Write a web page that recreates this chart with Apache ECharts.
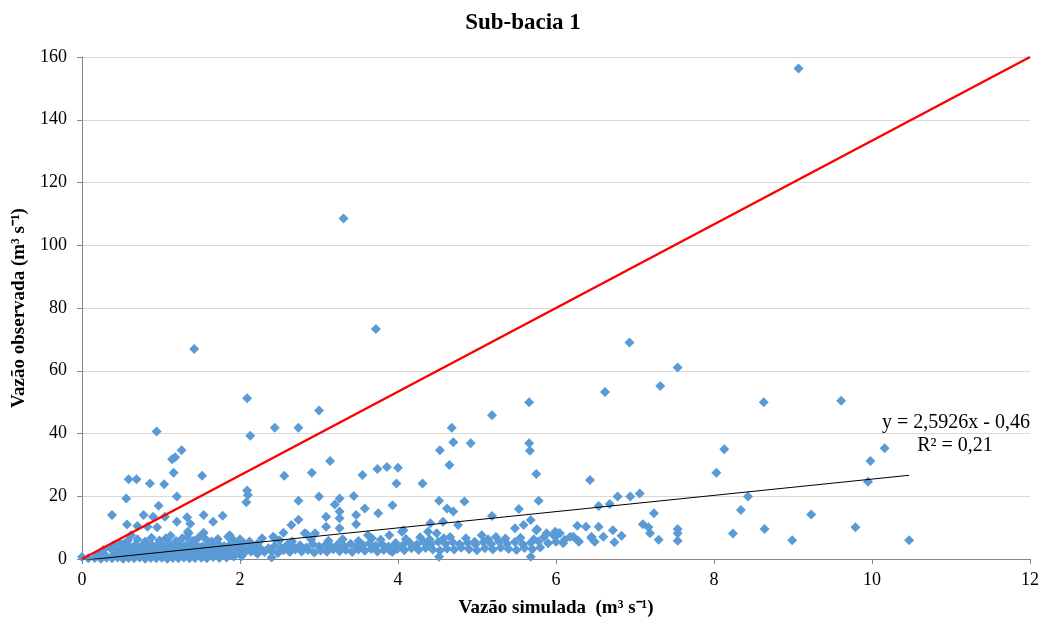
<!DOCTYPE html>
<html>
<head>
<meta charset="utf-8">
<script src="https://cdn.jsdelivr.net/npm/echarts@6/dist/echarts.min.js"></script>
<style>
  html, body { margin: 0; padding: 0; background: #fff; }
  #chart { width: 1046px; height: 623px; }
</style>
</head>
<body>
<div id="chart"></div>
<script>
// Axis ranges and ticks
const xTicks = [0, 2, 4, 6, 8, 10, 12];
const yTicks = [0, 20, 40, 60, 80, 100, 120, 140, 160];

// [simulated, observed] pairs, m3/s
const obsHigh = [
  [9.07,156.3],[3.31,108.5],[3.72,73.3],[1.42,66.9],[6.93,69.0],[7.54,61.0],[7.32,55.1],
  [6.62,53.2],[9.61,50.4],[8.63,50.0],[2.09,51.2],[5.66,50.0],[5.19,45.8],[3.00,47.3],
  [4.68,41.8],[2.44,41.8],[2.74,41.8],[0.945,40.6],[2.13,39.3],[4.70,37.2],[4.92,36.9],
  [5.66,36.9],[5.67,34.5],[4.53,34.7],[8.13,35.0],[10.16,35.3],[1.26,34.7],[1.18,32.4],
  [1.14,31.8],[9.98,31.2],[3.14,31.2],[4.65,30.0],[3.86,29.3],[4.00,29.1],[3.74,28.7],
  [2.91,27.5],[2.56,26.5],[1.16,27.5],[1.52,26.5],[5.75,27.1],[8.03,27.5],[3.55,26.8],
  [0.59,25.4],[0.69,25.4],[6.43,25.2],[9.95,24.6],[0.86,24.1],[1.04,23.8],[3.98,24.1],
  [4.31,24.1]
];

const obsMid = [
  [2.09,21.8],[2.10,20.4],[2.08,18.1],[0.56,19.3],[1.20,19.9],[3.00,19.9],[3.26,19.3],
  [3.44,20.1],[2.74,18.6],[4.52,18.6],[4.84,18.3],[5.78,18.6],[6.78,19.9],[6.94,19.9],
  [7.06,20.9],[8.43,19.9],[3.20,17.4],[3.93,17.1],[0.97,17.0],[6.54,16.9],[6.68,17.5],
  [3.58,16.1],[4.62,16.1],[5.53,15.9],[8.34,15.6],[3.26,15.1],[4.70,15.1],[3.75,14.6],
  [7.24,14.6],[9.23,14.2],[0.38,14.0],[0.78,14.0],[1.54,14.0],[1.78,13.8],[5.19,13.7],
  [0.90,13.5],[1.05,13.5],[1.33,13.3],[3.09,13.5],[3.26,13.0],[3.47,14.0],[2.74,12.5],
  [1.20,11.9],[1.66,11.9],[1.37,11.2],[0.57,11.0],[0.70,10.5],[0.83,10.3],[0.95,10.1],
  [2.65,10.8],[4.57,11.9],[4.41,11.4],[4.76,10.8],[5.59,10.8],[5.68,12.4],[3.09,10.3],
  [3.26,9.8],[3.47,11.1],[6.27,10.6],[6.38,10.3],[6.54,10.3],[7.10,11.1],[7.17,10.1],
  [5.48,9.8],[5.75,9.2],[7.54,9.6],[8.64,9.6],[9.79,10.1],[6.72,9.2],[5.76,9.5],
  [4.07,9.2],[5.99,8.7],[1.35,8.2],[1.54,8.4],[1.34,8.7],[2.55,8.4],[2.84,8.0],
  [2.82,8.2],[2.95,8.2],[4.38,8.7],[4.49,8.2],[4.05,8.7],[7.19,8.2],[7.54,8.2],
  [8.24,8.1],[5.88,8.2],[6.05,8.2],[6.03,8.2],[1.85,7.1],[1.87,7.6],[2.42,7.1],
  [2.28,6.6],[2.44,6.6],[3.62,7.6],[3.67,6.6],[3.89,7.6],[5.06,7.6],[5.97,7.6],
  [6.83,7.4],[6.60,7.1],[6.45,7.1],[6.18,7.1],[5.99,7.1],[6.22,7.1],[4.86,6.6],
  [6.45,6.6],[7.30,6.1],[6.11,6.1],[8.99,6.0],[10.47,6.0],[6.28,5.8],[7.54,5.8],
  [4.97,5.5],[6.49,5.5],[6.29,5.5],[6.74,5.3],[6.09,5.0],[3.96,4.5],[3.93,2.3],
  [2.40,0.5],[4.52,0.7],[5.68,0.7],[0.62,7.6],[0.48,5.0]
];

const obsLowFlow = [
  [0.00,0.6],[0.08,0.2],[0.16,0.3],[0.24,0.1],[0.31,0.4],[0.38,0.2],[0.45,0.5],[0.52,0.1],
  [0.59,0.3],[0.66,0.2],[0.73,0.5],[0.80,0.1],[0.87,0.3],[0.94,0.2],[1.01,0.4],[1.08,0.1],
  [1.15,0.3],[1.22,0.2],[1.29,0.5],[1.36,0.2],[1.43,0.3],[1.51,0.4],[1.58,0.2],[1.66,0.6],
  [1.74,0.3],[1.83,0.5],[1.92,0.8],[2.02,0.9],
  [0.22,1.8],[0.30,1.2],[0.41,1.6],[0.48,2.1],[0.55,1.3],[0.62,1.9],[0.69,1.1],[0.76,1.7],
  [0.83,2.2],[0.90,1.4],[0.97,1.8],[1.04,1.2],[1.11,2.0],[1.18,1.5],[1.25,1.1],[1.32,1.9],
  [1.39,1.4],[1.46,2.2],[1.53,1.6],[1.60,1.2],[1.67,1.9],[1.74,1.4],[1.81,2.1],[1.89,1.6],
  [1.97,2.3],[2.05,1.8],[2.14,2.4],[2.22,1.7],[2.31,2.2],
  [0.27,2.9],[0.36,3.4],[0.44,2.7],[0.51,3.5],[0.58,2.8],[0.65,3.3],[0.72,2.6],[0.79,3.6],
  [0.86,3.0],[0.93,2.7],[1.00,3.5],[1.07,2.9],[1.14,3.3],[1.21,2.6],[1.28,3.4],[1.35,3.0],
  [1.42,3.7],[1.49,2.8],[1.56,3.3],[1.63,2.7],[1.70,3.6],[1.77,3.0],[1.85,3.4],[1.93,2.8],
  [2.01,3.5],[2.10,3.0],[2.18,3.7],[2.27,3.1],[2.36,3.4],
  [0.40,4.4],[0.53,4.8],[0.60,4.1],[0.68,4.6],[0.75,4.0],[0.82,4.9],[0.89,4.3],[0.96,4.7],
  [1.03,4.1],[1.10,5.0],[1.17,4.4],[1.24,4.8],[1.31,4.2],[1.38,5.1],[1.45,4.5],[1.52,4.0],
  [1.59,4.9],[1.66,4.3],[1.73,4.7],[1.80,4.1],[1.88,4.8],[1.96,4.4],[2.05,5.0],[2.14,4.5],
  [2.22,4.9],
  [0.58,5.8],[0.70,6.3],[0.80,5.6],[0.88,6.8],[0.98,5.9],[1.06,6.5],[1.12,7.4],[1.19,5.7],
  [1.27,6.6],[1.33,7.0],[1.41,5.8],[1.48,6.9],[1.57,6.2],[1.64,5.6],[1.72,6.4],[1.92,5.9],
  [2.00,6.3],[2.12,5.6]
];

const obsBand = [
  [2.40,2.5],[2.48,1.9],[2.55,2.8],[2.63,2.2],[2.70,3.0],[2.78,2.4],[2.86,2.9],[2.94,2.1],
  [3.02,2.7],[3.10,2.3],[3.18,3.1],[3.26,2.5],[3.34,2.9],[3.42,2.2],[3.50,3.0],[3.58,2.6],
  [3.66,3.2],[3.74,2.4],[3.82,2.9],[3.90,2.6],[3.99,3.2],[4.08,2.8],[4.17,3.4],[4.26,2.9],
  [4.35,3.5],[4.44,3.0],[4.53,2.7],[4.62,3.3],[4.71,3.0],[4.80,3.6],[4.90,3.1],[5.00,2.8],
  [5.10,3.4],[5.20,3.0],[5.30,3.6],[5.40,3.2],[5.50,2.9],[5.60,3.5],[5.70,3.1],[5.80,3.7],
  [2.44,4.2],[2.52,3.6],[2.60,4.6],[2.68,3.9],[2.76,4.4],[2.84,3.7],[2.92,4.8],[3.00,4.0],
  [3.08,4.5],[3.16,3.8],[3.24,4.7],[3.32,4.1],[3.40,4.9],[3.48,3.9],[3.56,4.4],[3.64,5.0],
  [3.72,4.2],[3.80,4.7],[3.88,4.0],[3.97,5.1],[4.06,4.4],[4.15,5.2],[4.24,4.6],[4.33,5.3],
  [4.42,4.8],[4.51,5.5],[4.60,4.9],[4.69,5.4],[4.78,4.7],[4.88,5.2],[4.98,4.6],[5.08,5.3],
  [5.18,4.8],[5.28,5.5],[5.38,4.9],[5.48,5.4],[5.58,4.7],[5.68,5.2],[5.78,5.6],[5.90,5.0],
  [6.00,5.5],
  [2.50,6.0],[2.66,5.6],[2.90,6.2],[3.12,5.8],[3.30,6.3],[3.50,5.7],[3.78,6.1],[4.10,6.4],
  [4.28,6.9],[4.40,6.2],[4.58,6.6],[4.66,7.0],[5.14,6.3],[5.24,7.0],[5.36,6.5],[5.55,6.8],
  [5.72,6.3],[5.85,7.0]
];

// Reference line (red) and linear fit
const refLine = [[0, 0], [12, 160]];
const fitSlope = 2.5926;
const fitIntercept = -0.46;
const fitR2 = 0.21;
const fitRange = [0, 10.47];

const points = [].concat(obsLowFlow, obsBand, obsMid, obsHigh);
const fitLine = fitRange.map(x => [x, fitSlope * x + fitIntercept]);

const fmt = v => String(v).replace('.', ',');
const serif = '"Liberation Serif", "Times New Roman", serif';

const chart = echarts.init(document.getElementById('chart'), null, { renderer: 'canvas' });
chart.setOption({
  animation: false,
  backgroundColor: '#ffffff',
  title: {
    text: 'Sub-bacia 1',
    left: 'center',
    top: 7,
    textStyle: { fontFamily: serif, fontSize: 23, fontWeight: 'bold', color: '#000' }
  },
  grid: { left: 82, right: 16, top: 57, bottom: 64, containLabel: false },
  xAxis: {
    type: 'value',
    min: xTicks[0], max: xTicks[xTicks.length - 1], interval: 2,
    name: 'Vazão simulada  (m³ s⁻¹)',
    nameLocation: 'middle',
    nameGap: 40,
    nameTextStyle: { fontFamily: serif, fontSize: 19, fontWeight: 'bold', color: '#000' },
    axisLine: { show: true, lineStyle: { color: '#868686', width: 1 } },
    axisTick: { show: true, length: 5, lineStyle: { color: '#868686' } },
    axisLabel: { fontFamily: serif, fontSize: 18, color: '#000', margin: 12 },
    splitLine: { show: false }
  },
  yAxis: {
    type: 'value',
    min: yTicks[0], max: yTicks[yTicks.length - 1], interval: 20,
    name: 'Vazão observada (m³ s⁻¹)',
    nameLocation: 'middle',
    nameGap: 53,
    nameRotate: 90,
    nameTextStyle: { fontFamily: serif, fontSize: 19, fontWeight: 'bold', color: '#000' },
    axisLine: { show: true, lineStyle: { color: '#868686', width: 1 } },
    axisTick: { show: true, length: 5, lineStyle: { color: '#868686' } },
    axisLabel: { fontFamily: serif, fontSize: 18, color: '#000', margin: 15 },
    splitLine: { show: true, lineStyle: { color: '#d9d9d9', width: 1 } }
  },
  series: [
    {
      type: 'scatter',
      data: points,
      symbol: 'diamond',
      symbolSize: 10,
      itemStyle: { color: '#5b9bd5', opacity: 1 },
      z: 2
    },
    {
      type: 'line',
      data: refLine,
      symbol: 'none',
      lineStyle: { color: '#ff0000', width: 2.5 },
      z: 4
    },
    {
      type: 'line',
      data: fitLine,
      symbol: 'none',
      clip: true,
      lineStyle: { color: '#000000', width: 1 },
      z: 3
    }
  ],
  graphic: [
    {
      type: 'text', x: 956, y: 423,
      style: {
        text: 'y = ' + fmt(fitSlope) + 'x - ' + fmt(-fitIntercept),
        font: '20px ' + serif, fill: '#000', align: 'center', verticalAlign: 'middle'
      }
    },
    {
      type: 'text', x: 955, y: 446,
      style: {
        text: 'R² = ' + fmt(fitR2),
        font: '20px ' + serif, fill: '#000', align: 'center', verticalAlign: 'middle'
      }
    }
  ]
});
</script>
</body>
</html>
